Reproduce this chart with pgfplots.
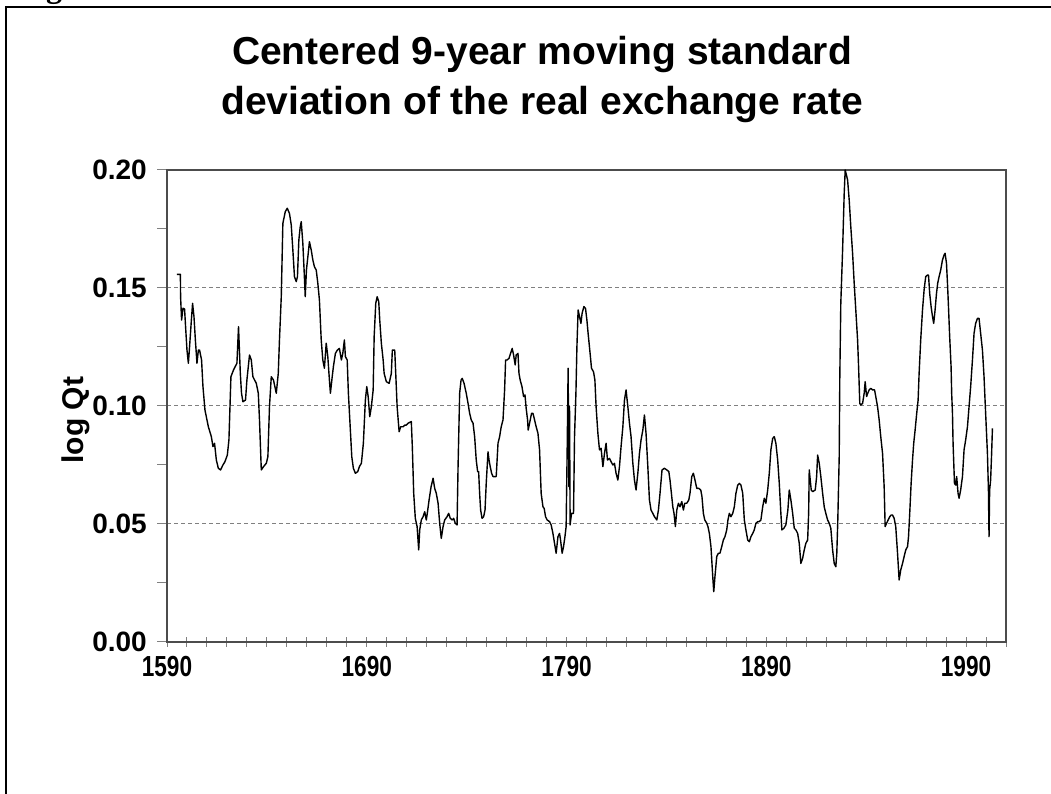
\documentclass[border=0pt]{standalone}
\usepackage{pgfplots}
\pgfplotsset{compat=1.18}
\usepackage{fontspec}
\setmainfont{Liberation Sans}
\newfontfamily\serifb{Liberation Serif}
\newfontfamily\narrowb[FakeStretch=0.78]{Liberation Sans}
\begin{document}
\begin{tikzpicture}[x=1bp,y=1bp]
\useasboundingbox (0,0) rectangle (1051,794);
\begin{axis}[
  at={(167bp,152bp)}, anchor=south west,
  scale only axis, width=839bp, height=472bp,
  xmin=1590, xmax=2010, ymin=0, ymax=0.2,
  xtick={1590,1690,1790,1890,1990},
  minor xtick={1600,1610,...,2010},
  ytick={0,0.05,0.10,0.15,0.20},
  minor ytick={0.025,0.075,0.125,0.175},
  xtick pos=bottom, ytick pos=left,
  tick align=outside,
  major tick length=10bp, minor tick length=10bp,
  every tick/.style={black!50, line width=1bp},
  every x tick/.append style={yshift=5bp},
  axis line style={black!70, line width=1.6bp},
  ymajorgrids,
  grid style={black!50, dashed, dash pattern=on 4bp off 3bp, line width=1bp},
  /pgf/number format/assume math mode=true,
  /pgf/number format/1000 sep={},
  yticklabel style={/pgf/number format/fixed, /pgf/number format/fixed zerofill, /pgf/number format/precision=2, anchor=east, inner sep=0pt, xshift=-10bp, font=\fontsize{28bp}{32bp}\selectfont\bfseries, text=black},
  xticklabel style={anchor=north, inner sep=0pt, yshift=-4bp, font=\fontsize{29bp}{33bp}\selectfont\narrowb\bfseries, text=black},
  ylabel={log Qt},
  ylabel style={at={(axis description cs:-0.1085,0.470)}, anchor=center, font=\fontsize{30bp}{34bp}\selectfont\bfseries},
]
\addplot[black, line width=1.4bp, line join=round] coordinates {
(1595.0,0.1558)(1596.7,0.1558)(1596.8,0.1463)(1597.3,0.1364)(1598.0,0.1414)(1598.8,0.1411)(1599.3,0.1336)(1600.0,0.1237)(1600.7,0.1181)(1601.3,0.1251)(1602.2,0.1364)(1602.8,0.1435)(1603.5,0.1379)(1604.2,0.1280)(1605.0,0.1181)(1605.7,0.1237)(1606.3,0.1237)(1607.3,0.1195)(1608.0,0.1082)(1609.0,0.0983)(1610.7,0.0912)(1612.2,0.0870)(1613.0,0.0828)(1613.8,0.0842)(1614.7,0.0771)(1615.7,0.0736)(1616.8,0.0729)(1618.0,0.0750)(1619.0,0.0764)(1620.2,0.0792)(1621.0,0.0856)(1622.0,0.1124)(1623.3,0.1153)(1625.0,0.1181)(1625.8,0.1336)(1626.7,0.1138)(1627.3,0.1054)(1628.0,0.1018)(1629.3,0.1025)(1630.0,0.1110)(1631.3,0.1216)(1632.2,0.1195)(1633.0,0.1124)(1634.7,0.1096)(1635.7,0.1054)(1636.3,0.0941)(1637.2,0.0729)(1638.3,0.0743)(1639.7,0.0757)(1640.5,0.0785)(1641.3,0.0997)(1642.2,0.1124)(1643.3,0.1110)(1644.7,0.1054)(1645.7,0.1138)(1646.3,0.1280)(1647.2,0.1463)(1648.0,0.1774)(1649.2,0.1823)(1650.2,0.1838)(1651.3,0.1816)(1652.2,0.1767)(1653.0,0.1661)(1653.8,0.1548)(1654.7,0.1527)(1655.3,0.1548)(1656.0,0.1703)(1656.7,0.1760)(1657.2,0.1781)(1658.0,0.1689)(1658.7,0.1562)(1659.2,0.1463)(1659.8,0.1576)(1660.7,0.1647)(1661.3,0.1696)(1662.2,0.1661)(1663.0,0.1619)(1663.8,0.1590)(1664.7,0.1576)(1665.5,0.1520)(1666.3,0.1449)(1667.2,0.1280)(1668.0,0.1195)(1668.8,0.1160)(1669.7,0.1266)(1670.5,0.1209)(1671.3,0.1110)(1671.8,0.1054)(1672.7,0.1124)(1673.3,0.1167)(1674.3,0.1223)(1675.3,0.1237)(1676.3,0.1244)(1677.3,0.1195)(1678.0,0.1223)(1678.8,0.1280)(1679.3,0.1209)(1680.2,0.1195)(1680.8,0.1054)(1681.7,0.0912)(1682.5,0.0785)(1683.3,0.0736)(1684.3,0.0715)(1685.5,0.0722)(1686.3,0.0743)(1687.3,0.0757)(1688.3,0.0842)(1689.3,0.1025)(1690.0,0.1082)(1690.7,0.1040)(1691.5,0.0955)
(1692.3,0.0997)(1693.2,0.1068)(1693.7,0.1294)(1694.5,0.1435)(1695.2,0.1463)(1696.0,0.1442)(1696.5,0.1364)(1697.3,0.1266)(1698.2,0.1195)(1698.7,0.1138)(1699.8,0.1103)(1701.2,0.1096)(1702.3,0.1138)(1702.8,0.1237)(1704.0,0.1237)(1704.5,0.1138)(1705.2,0.0997)(1706.2,0.0891)(1707.0,0.0912)(1708.2,0.0912)(1709.0,0.0919)(1709.8,0.0919)(1710.7,0.0927)(1712.3,0.0934)(1712.8,0.0828)(1713.5,0.0630)(1714.3,0.0524)(1715.2,0.0489)(1716.0,0.0390)(1716.5,0.0475)(1717.3,0.0517)(1718.2,0.0531)(1719.0,0.0552)(1719.8,0.0517)(1720.3,0.0545)(1721.2,0.0602)(1722.2,0.0658)(1723.2,0.0694)(1724.0,0.0651)(1724.8,0.0630)(1725.7,0.0588)(1726.5,0.0503)(1727.3,0.0439)(1728.2,0.0489)(1729.0,0.0517)(1730.2,0.0531)(1731.0,0.0545)(1731.8,0.0524)(1732.8,0.0517)(1733.5,0.0524)(1734.3,0.0503)(1735.2,0.0496)(1735.7,0.0743)(1736.5,0.1054)(1737.2,0.1110)(1737.8,0.1117)(1738.7,0.1096)(1739.8,0.1054)(1740.7,0.1011)(1741.5,0.0969)(1742.3,0.0941)(1743.2,0.0927)(1744.0,0.0870)(1744.8,0.0771)(1745.5,0.0722)(1746.0,0.0722)(1746.5,0.0630)(1747.0,0.0559)(1747.7,0.0524)(1748.5,0.0531)(1749.2,0.0559)(1749.8,0.0672)(1750.7,0.0806)(1751.2,0.0771)(1751.8,0.0743)(1752.5,0.0715)(1753.2,0.0701)(1754.8,0.0701)(1755.7,0.0842)(1756.5,0.0870)(1757.3,0.0912)(1758.2,0.0941)(1759.0,0.1068)(1759.5,0.1195)(1760.3,0.1195)(1761.2,0.1202)(1762.0,0.1223)(1762.8,0.1244)(1763.5,0.1216)(1764.3,0.1174)(1764.8,0.1216)(1765.7,0.1223)(1766.2,0.1138)(1766.8,0.1110)(1767.7,0.1082)(1768.5,0.1040)(1769.2,0.1047)(1769.8,0.0990)(1770.5,0.0941)(1770.8,0.0898)(1771.5,0.0927)(1772.5,0.0969)(1773.2,0.0969)(1774.0,0.0941)(1774.8,0.0912)(1775.7,0.0884)(1776.5,0.0814)(1777.3,0.0630)(1778.2,0.0573)(1778.8,0.0566)(1779.5,0.0531)(1780.3,0.0517)(1781.5,0.0510)(1782.3,0.0496)(1783.2,0.0460)(1784.0,0.0418)(1784.8,0.0376)(1785.7,0.0446)(1786.5,0.0460)(1787.0,0.0432)(1787.8,0.0376)(1788.5,0.0404)(1789.2,0.0446)(1789.8,0.0489)(1790.3,0.0799)(1790.8,0.1160)(1791.2,0.0658)(1791.5,0.0997)(1791.8,0.0496)(1792.5,0.0545)(1793.5,0.0545)(1794.0,0.0870)(1794.7,0.1054)(1795.2,0.1251)(1795.8,0.1407)(1796.5,0.1379)(1797.2,0.1350)(1797.8,0.1393)(1798.7,0.1421)(1799.5,0.1414)(1800.2,0.1364)(1800.8,0.1308)
(1801.8,0.1223)(1802.5,0.1160)(1803.5,0.1145)(1804.2,0.1110)(1804.8,0.0997)(1805.7,0.0884)(1806.5,0.0814)(1807.3,0.0821)(1808.2,0.0743)(1809.0,0.0799)(1809.8,0.0842)(1810.5,0.0771)(1811.5,0.0778)(1812.3,0.0764)(1813.2,0.0750)(1814.0,0.0757)(1814.8,0.0715)(1815.7,0.0686)(1816.5,0.0743)(1817.3,0.0828)(1818.2,0.0912)(1819.0,0.1025)(1819.8,0.1068)(1820.7,0.0997)(1821.5,0.0927)(1822.3,0.0870)(1823.2,0.0757)(1824.0,0.0686)(1824.8,0.0644)(1825.7,0.0715)(1826.5,0.0799)(1827.3,0.0856)(1828.2,0.0898)(1829.0,0.0962)(1829.8,0.0884)(1830.7,0.0743)(1831.5,0.0602)(1832.3,0.0559)(1833.2,0.0545)(1834.0,0.0531)(1835.2,0.0517)(1836.0,0.0559)(1836.8,0.0630)(1837.8,0.0729)(1839.0,0.0736)(1840.2,0.0729)(1841.2,0.0722)(1841.8,0.0686)(1842.5,0.0630)(1843.2,0.0573)(1843.8,0.0545)(1844.5,0.0489)(1845.2,0.0559)(1846.0,0.0588)(1846.8,0.0573)(1847.7,0.0595)(1848.5,0.0559)(1849.2,0.0588)(1850.2,0.0588)(1851.2,0.0602)(1851.8,0.0630)(1852.7,0.0701)(1853.5,0.0715)(1854.3,0.0686)(1855.2,0.0651)(1856.2,0.0651)(1857.2,0.0644)(1857.8,0.0616)(1858.5,0.0545)(1859.2,0.0517)(1860.2,0.0503)(1860.8,0.0489)(1861.5,0.0460)(1862.3,0.0404)(1863.2,0.0277)(1863.7,0.0213)(1864.3,0.0277)(1865.2,0.0362)(1866.0,0.0376)(1866.8,0.0376)(1867.7,0.0404)(1868.5,0.0432)(1869.3,0.0446)(1870.2,0.0475)(1870.8,0.0517)(1871.5,0.0545)(1872.3,0.0531)(1873.2,0.0545)(1874.0,0.0573)(1874.8,0.0630)(1875.7,0.0665)(1876.5,0.0672)(1877.3,0.0665)(1878.2,0.0630)(1879.0,0.0517)(1879.8,0.0475)(1880.7,0.0432)(1881.5,0.0425)(1882.3,0.0446)(1883.2,0.0460)(1884.0,0.0475)(1884.8,0.0503)(1885.7,0.0510)(1886.5,0.0510)(1887.3,0.0517)(1888.2,0.0573)(1889.0,0.0609)(1889.8,0.0588)(1890.7,0.0644)(1891.5,0.0715)(1892.3,0.0814)(1893.2,0.0863)(1894.0,0.0870)(1894.8,0.0842)(1895.7,0.0771)(1896.5,0.0672)(1897.3,0.0545)(1897.8,0.0475)(1898.8,0.0482)(1899.8,0.0496)(1900.8,0.0559)(1901.5,0.0644)(1902.3,0.0602)(1903.2,0.0545)(1904.0,0.0482)(1904.8,0.0475)(1905.7,0.0460)
(1906.5,0.0418)(1907.3,0.0333)(1908.2,0.0355)(1909.0,0.0390)(1909.8,0.0418)(1910.7,0.0432)(1911.2,0.0545)(1911.5,0.0729)(1912.0,0.0686)(1912.5,0.0644)(1913.2,0.0637)(1914.5,0.0644)(1915.2,0.0701)(1915.7,0.0792)(1916.5,0.0757)(1917.3,0.0701)(1918.2,0.0630)(1919.0,0.0573)(1919.8,0.0545)(1920.7,0.0517)(1921.5,0.0503)(1922.3,0.0482)(1923.2,0.0390)(1924.0,0.0333)(1924.8,0.0319)(1925.3,0.0376)(1925.8,0.0517)(1926.5,0.0785)(1926.8,0.1124)(1927.3,0.1435)(1928.2,0.1661)(1929.0,0.1901)(1929.5,0.2000)(1930.7,0.1958)(1931.5,0.1873)(1932.3,0.1760)(1933.2,0.1647)(1934.0,0.1520)(1934.8,0.1407)(1935.7,0.1280)(1936.2,0.1167)(1936.8,0.1011)(1937.3,0.1004)(1938.2,0.1011)(1939.0,0.1054)(1939.5,0.1103)(1940.2,0.1040)(1940.8,0.1054)(1941.5,0.1068)(1942.3,0.1075)(1943.2,0.1068)(1944.2,0.1068)(1944.8,0.1040)(1945.7,0.0997)(1946.5,0.0941)(1947.3,0.0870)(1948.2,0.0799)(1949.0,0.0658)(1949.5,0.0489)(1950.2,0.0503)(1951.0,0.0517)(1951.8,0.0531)(1952.5,0.0538)(1953.2,0.0538)(1954.0,0.0524)(1954.8,0.0489)(1955.7,0.0376)(1956.5,0.0263)(1957.3,0.0305)(1958.2,0.0333)(1959.0,0.0362)(1959.8,0.0390)(1960.7,0.0404)(1961.2,0.0446)(1961.8,0.0545)(1962.5,0.0672)(1963.2,0.0771)(1963.8,0.0842)(1964.5,0.0898)(1965.3,0.0969)(1966.0,0.1025)(1966.5,0.1138)(1967.3,0.1280)(1968.2,0.1407)(1969.0,0.1492)(1969.8,0.1548)(1970.7,0.1555)(1971.2,0.1555)(1971.8,0.1477)(1972.5,0.1421)(1973.2,0.1379)(1973.8,0.1350)(1974.5,0.1407)(1975.2,0.1477)(1975.8,0.1520)(1976.5,0.1548)(1977.3,0.1576)(1978.2,0.1619)(1979.0,0.1640)(1979.5,0.1647)(1980.2,0.1605)(1980.7,0.1520)(1981.2,0.1421)(1981.8,0.1294)(1982.5,0.1167)(1982.8,0.1054)(1983.2,0.0969)(1983.5,0.0842)(1984.2,0.0672)(1984.8,0.0665)(1985.3,0.0701)(1986.0,0.0630)(1986.5,0.0609)(1987.3,0.0644)(1988.2,0.0701)(1989.0,0.0814)(1989.8,0.0856)(1990.7,0.0912)(1991.5,0.0997)(1992.3,0.1082)(1993.2,0.1195)(1994.0,0.1308)(1994.8,0.1350)(1995.7,0.1371)(1996.5,0.1371)(1997.3,0.1308)(1998.2,0.1237)(1999.0,0.1124)(1999.8,0.0969)(2000.7,0.0799)(2001.2,0.0644)(2001.5,0.0446)(2001.8,0.0644)(2002.3,0.0686)(2002.8,0.0799)(2003.2,0.0905)
};
\end{axis}
\node[anchor=base, font=\fontsize{39bp}{44bp}\selectfont\bfseries, inner sep=0pt] at (542,729) {Centered 9-year moving standard};
\node[anchor=base, font=\fontsize{39bp}{44bp}\selectfont\bfseries, inner sep=0pt] at (542,679) {deviation of the real exchange rate};
\node[anchor=base, font=\fontsize{32bp}{36bp}\selectfont\serifb\bfseries, inner sep=0pt] at (54,796) {g};
\draw[black, line width=2bp] (5.5,-5) -- (5.5,787) -- (1060,787);
\end{tikzpicture}
\end{document}
